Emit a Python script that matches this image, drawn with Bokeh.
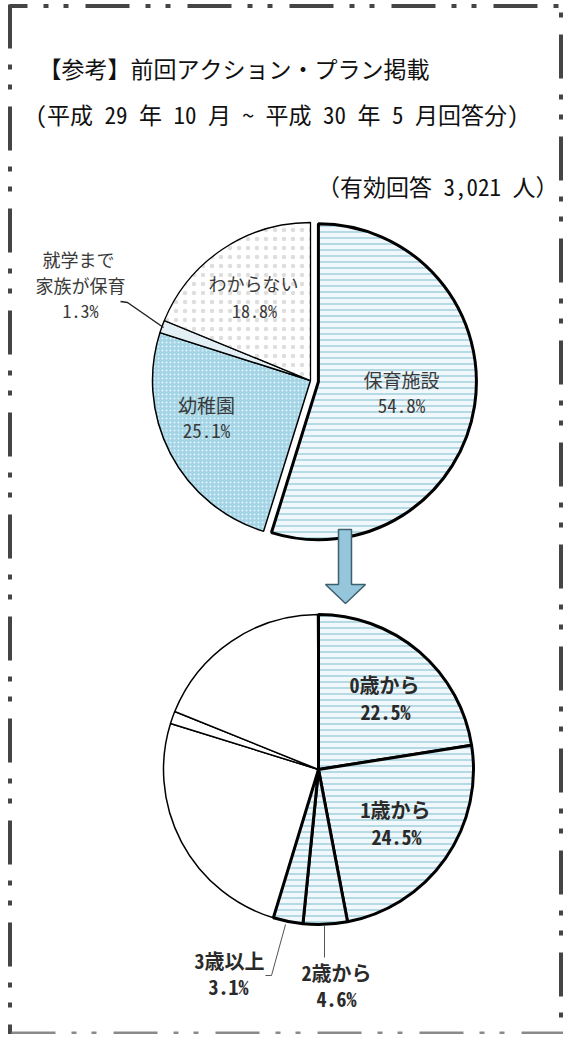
import numpy as np
from bokeh.plotting import figure
from bokeh.models import Range1d
from bokeh.core.properties import value
from bokeh.embed import file_html
from bokeh.resources import INLINE

# ---------------- data ----------------
title_line1 = "【参考】前回アクション・プラン掲載"
title_line2 = "(平成 29 年 10 月 ~ 平成 30 年 5 月回答分)"
respondents = "（有効回答 3,021 人）"

top_names = ["保育施設", "幼稚園", "就学まで\n家族が保育", "わからない"]
top_values = [54.8, 25.1, 1.3, 18.8]

bottom_names = ["0歳から", "1歳から", "2歳から", "3歳以上", "幼稚園", "就学まで家族が保育", "わからない"]
bottom_values = [22.5, 24.5, 4.6, 3.1, 25.1, 1.3, 18.8]

# ---------------- layout ----------------
W, H = 563, 1034
JP = value("Noto Sans Mono CJK JP, Noto Sans CJK JP")

p = figure(width=W, height=H, x_range=Range1d(8, 8 + W), y_range=Range1d(-(8 + H), -8),
           output_backend="svg", toolbar_location=None, min_border=0,
           x_axis_location=None, y_axis_location=None)
p.grid.visible = False
p.outline_line_color = None
p.background_fill_color = "white"
p.border_fill_color = "white"


def Y(py):
    return -py


def angles(vals):
    cum = np.cumsum([0.0] + list(vals)) / 100.0
    start = np.pi / 2 - 2 * np.pi * cum[:-1]
    end = np.pi / 2 - 2 * np.pi * cum[1:]
    return start, end


HLINE = dict(fill_color="#f1f8fb", hatch_pattern="horizontal_line", hatch_color="#8fc6d7",
             hatch_scale=6, hatch_weight=1.2)

# ---------------- border (dash-dot-dot) ----------------
border_col = "#454545"
dash = "44 16 5 15 5 17"
p.line([17, 571], [Y(13.5), Y(13.5)], line_width=4, line_color=border_col, line_dash=dash,
       line_dash_offset=26)
p.line([17.5, 17.5], [Y(12), Y(1042)], line_width=4, line_color=border_col, line_dash=dash,
       line_dash_offset=0)
p.line([568.5, 568.5], [Y(12), Y(1042)], line_width=4, line_color=border_col, line_dash=dash,
       line_dash_offset=72)
p.line([17, 571], [Y(1040.5), Y(1040.5)], line_width=3, line_color="#8a8a8a", line_dash=dash,
       line_dash_offset=100)

# ---------------- header ----------------
p.text([46], [Y(75)], text=[title_line1], text_font=JP, text_font_size="23px",
       text_color="#111111", text_align="left", text_baseline="middle")
p.text([43], [Y(121)], text=[title_line2], text_font=JP, text_font_size="23px",
       text_color="#111111", text_align="left", text_baseline="middle")
p.text([566], [Y(193)], text=[respondents], text_font=JP, text_font_size="23px",
       text_color="#111111", text_align="right", text_baseline="middle")

# ---------------- top pie ----------------
cx, cy, r = 318, 388, 158
ts, te = angles(top_values)
top_styles = [
    dict(HLINE, line_width=3),
    dict(fill_color="#a3d4e5", hatch_pattern="dot", hatch_color="#e2f2f8", hatch_scale=4,
         hatch_weight=1.0, line_width=1.5),
    dict(fill_color="#e2f0f5", line_width=1.5),
    dict(fill_color="#ffffff", hatch_pattern="dot", hatch_color="#dedede", hatch_scale=9,
         hatch_weight=0.8, line_width=1.3),
]
explode = [8, 0, 0, 0]
for i in [1, 2, 3, 0]:
    mid = (ts[i] + te[i]) / 2
    ox = cx + explode[i] * np.cos(mid)
    oy = Y(cy) + explode[i] * np.sin(mid)
    p.wedge(x=[ox], y=[oy], radius=r, radius_units="screen", start_angle=ts[i], end_angle=te[i],
            direction="clock", line_color="black", **top_styles[i])

lab_top = dict(text_font=JP, text_color="#3a3a3a", text_align="center", text_baseline="middle")
p.text([409, 409], [Y(387), Y(412)], text=[top_names[0], f"{top_values[0]}%"], text_font_size="19px", **lab_top)
p.text([214, 214], [Y(412), Y(437)], text=[top_names[1], f"{top_values[1]}%"], text_font_size="19px", **lab_top)
p.text([261, 262], [Y(290), Y(317)], text=[top_names[3], f"{top_values[3]}%"], text_font_size="18px", **lab_top)
fam = top_names[2].split("\n")
p.text([86, 88, 88], [Y(266), Y(292), Y(317)], text=[fam[0], fam[1], f"{top_values[2]}%"],
       text_font_size="18px", **lab_top)
p.line([128, 135, 171], [Y(309), Y(310), Y(335)], line_color="#222222", line_width=1.5)

# ---------------- arrow ----------------
p.patch([346, 359, 359, 373, 353, 333, 346, 346],
        [Y(537), Y(537), Y(592), Y(592), Y(611), Y(592), Y(592), Y(537)],
        fill_color="#95c6db", line_color="#3e5f6e", line_width=1.5)

# ---------------- bottom pie ----------------
bx, by, br = 326, 777, 155
bs, be = angles(bottom_values)
for i in range(4, 7):
    p.wedge(x=[bx], y=[Y(by)], radius=br, radius_units="screen", start_angle=bs[i], end_angle=be[i],
            direction="clock", fill_color="white", line_color="black", line_width=1.5)
for i in range(0, 4):
    p.wedge(x=[bx], y=[Y(by)], radius=br, radius_units="screen", start_angle=bs[i], end_angle=be[i],
            direction="clock", line_color="black", line_width=3, **HLINE)

lab_bot = dict(text_font=JP, text_color="#2a2a2a", text_align="center", text_baseline="middle",
               text_font_style="bold")
p.text([392, 393], [Y(692), Y(719)], text=[bottom_names[0], f"{bottom_values[0]}%"], text_font_size="20px", **lab_bot)
p.text([403, 404], [Y(817), Y(844)], text=[bottom_names[1], f"{bottom_values[1]}%"], text_font_size="20px", **lab_bot)
p.text([344, 344], [Y(980), Y(1006)], text=[bottom_names[2], f"{bottom_values[2]}%"], text_font_size="20px", **lab_bot)
p.text([237, 236], [Y(968), Y(994)], text=[bottom_names[3], f"{bottom_values[3]}%"], text_font_size="20px", **lab_bot)
p.line([332, 332], [Y(933), Y(965)], line_color="#555555", line_width=1)
p.line([293, 279, 273], [Y(932), Y(983), Y(983)], line_color="#555555", line_width=1)

open("out.html", "w").write(file_html(p, INLINE))
